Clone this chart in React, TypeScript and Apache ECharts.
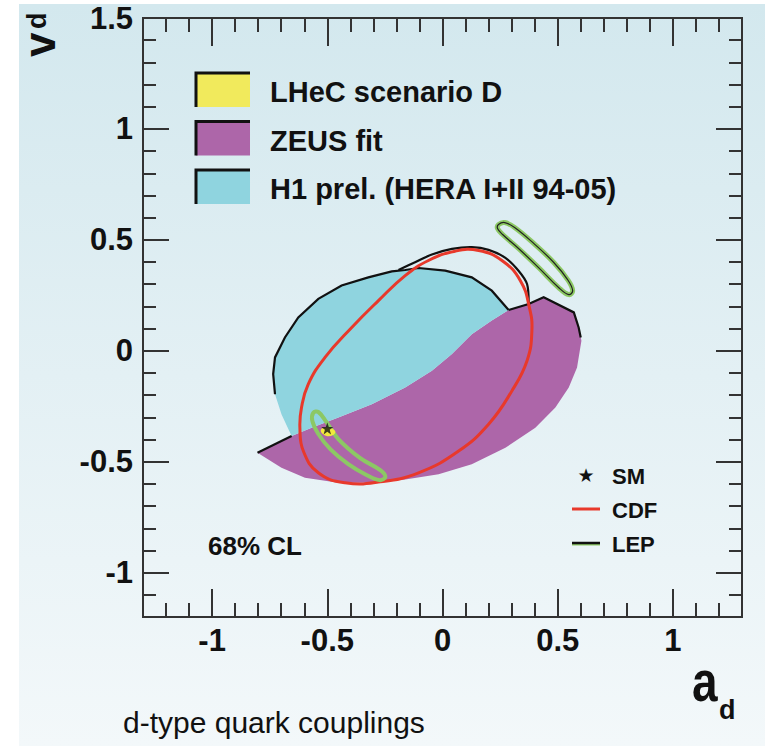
import React, { useEffect, useRef } from "react";
import * as echarts from "echarts";

// ---- axis definitions ----
const xRange = [-1.3, 1.3];
const yRange = [-1.2, 1.5];
const xMajorTicks = [-1, -0.5, 0, 0.5, 1];
const yMajorTicks = [-1, -0.5, 0, 0.5, 1, 1.5];

// ---- shapes (a_d, v_d) ----
// shared boundary between H1 (upper) and ZEUS (lower) regions, left to right
const h1ZeusBoundary = [
  [-0.655, -0.384], [-0.568, -0.347], [-0.452, -0.301], [-0.307, -0.241],
  [-0.162, -0.166], [-0.046, -0.09], [0.041, -0.015], [0.127, 0.075],
  [0.214, 0.136], [0.287, 0.184],
];
// H1 outer contour, from lower-left going up and over to the right
const h1Outer = [
  [-0.655, -0.384], [-0.699, -0.286], [-0.727, -0.196], [-0.735, -0.105],
  [-0.727, -0.03], [-0.684, 0.06], [-0.626, 0.15], [-0.539, 0.234],
  [-0.438, 0.294], [-0.322, 0.331], [-0.22, 0.358], [-0.162, 0.364],
  [-0.104, 0.373], [0.012, 0.361], [0.127, 0.331], [0.214, 0.271],
  [0.287, 0.184],
];
// ZEUS outer contour, from upper-right going round the bottom to the lower-left tail
const zeusOuter = [
  [0.287, 0.184], [0.374, 0.211], [0.439, 0.241], [0.57, 0.173],
  [0.591, 0.105], [0.603, 0.045], [0.584, -0.075], [0.548, -0.166],
  [0.49, -0.256], [0.403, -0.347], [0.273, -0.437], [0.127, -0.512],
  [-0.017, -0.557], [-0.162, -0.58], [-0.307, -0.595], [-0.452, -0.595],
  [-0.597, -0.572], [-0.699, -0.527], [-0.803, -0.46], [-0.655, -0.384],
];
// black contour line above the H1 region
const upperContour = [
  [-0.191, 0.364], [-0.119, 0.399], [-0.046, 0.434], [0.041, 0.459],
  [0.127, 0.467], [0.2, 0.455], [0.273, 0.419], [0.33, 0.361],
  [0.367, 0.301], [0.374, 0.211],
];
const zeusTailEdge = [[-0.803, -0.46], [-0.655, -0.384]];
const zeusRightEdge = [
  [0.287, 0.184], [0.374, 0.211], [0.439, 0.241], [0.57, 0.173],
  [0.591, 0.105], [0.6, 0.06],
];
const h1EdgeStart = 2; // black outline drawn from this h1Outer index on

// CDF contour
const cdfContour = [
  [-0.619, -0.347], [-0.612, -0.256], [-0.583, -0.151], [-0.51, -0.03],
  [-0.394, 0.105], [-0.278, 0.226], [-0.162, 0.339], [-0.061, 0.407],
  [0.055, 0.449], [0.157, 0.452], [0.258, 0.407], [0.338, 0.316],
  [0.377, 0.196], [0.388, 0.09], [0.367, -0.045], [0.301, -0.181],
  [0.2, -0.331], [0.07, -0.452], [-0.104, -0.55], [-0.278, -0.592],
  [-0.423, -0.595], [-0.539, -0.55], [-0.604, -0.452],
];
// LEP contours
const lepUpper = [
  [0.243, 0.569], [0.27, 0.578], [0.313, 0.556], [0.396, 0.484],
  [0.483, 0.398], [0.543, 0.321], [0.565, 0.271], [0.548, 0.253],
  [0.504, 0.285], [0.417, 0.375], [0.33, 0.461], [0.261, 0.524],
  [0.239, 0.551],
];
const lepLower = [
  [-0.561, -0.28], [-0.539, -0.276], [-0.504, -0.321], [-0.452, -0.398],
  [-0.357, -0.484], [-0.27, -0.538], [-0.248, -0.569], [-0.274, -0.583],
  [-0.33, -0.56], [-0.409, -0.511], [-0.487, -0.443], [-0.539, -0.375],
  [-0.565, -0.316],
];
// LHeC scenario D contour
const lhecContour = [
  [-0.528, -0.356], [-0.51, -0.346], [-0.48, -0.35], [-0.465, -0.365],
  [-0.475, -0.38], [-0.5, -0.385], [-0.522, -0.373],
];
// Standard Model point
const smPoint = [[-0.5, -0.35]];

const legendItems = ["LHeC scenario D", "ZEUS fit", "H1 prel. (HERA I+II 94-05)"];
const legendColors = ["#f1ea5c", "#ad66a9", "#8fd4df"];
const innerLegend = ["SM", "CDF", "LEP"];

const FONT = "'Liberation Sans', Arial, Helvetica, sans-serif";
const STAR = "path://M12,0 L14.9,8.3 L23.6,8.3 L16.6,13.6 L19.2,22 L12,16.9 L4.8,22 L7.4,13.6 L0.4,8.3 L9.1,8.3 Z";

function shapeSeries(pts: number[][], kind: "polygon" | "polyline", style: any, smooth = 0, z = 2) {
  return {
    type: "custom",
    xAxisIndex: 0,
    yAxisIndex: 0,
    z,
    silent: true,
    data: pts,
    renderItem: (params: any, api: any) => {
      if (params.dataIndex !== 0) return null;
      return {
        type: kind,
        shape: { points: pts.map((p) => api.coord(p)), smooth },
        style,
      };
    },
  };
}

function axisPair(dim: "x" | "y", position: string, range: number[], majors: number[], showLabels: boolean) {
  const common = {
    type: "value",
    min: range[0],
    max: range[1],
    position,
    splitLine: { show: false },
    axisLine: { show: true, onZero: false, lineStyle: { color: "#333", width: 2 } },
  };
  const majorLen = dim === "x" ? 28 : 26;
  const minorLen = dim === "x" ? 14 : 13;
  return [
    {
      ...common,
      interval: 0.1,
      axisTick: { show: true, inside: true, length: majorLen, customValues: majors, lineStyle: { color: "#333", width: 2 } },
      axisLabel: showLabels
        ? {
            show: true,
            customValues: majors,
            fontFamily: FONT,
            fontWeight: "bold",
            fontSize: 31,
            color: "#111",
            margin: dim === "x" ? 8 : 10,
          }
        : { show: false },
    },
    {
      ...common,
      interval: 0.1,
      axisTick: { show: true, inside: true, length: minorLen, lineStyle: { color: "#333", width: 2 } },
      axisLabel: { show: false },
    },
  ];
}

export default function App() {
  const ref = useRef<HTMLDivElement>(null);
  useEffect(() => {
    if (!ref.current) return;
    const chart = echarts.init(ref.current, null, { renderer: "svg" });
    const h1Poly = [...h1Outer, ...h1ZeusBoundary.slice().reverse()];
    const zeusPoly = [...h1ZeusBoundary, ...zeusOuter];
    const blackLine = { stroke: "#111", lineWidth: 2.2, fill: "none" };

    const legendGraphics: any[] = [];
    legendItems.forEach((t, i) => {
      const y = 73 + i * 48.5;
      legendGraphics.push({
        type: "rect",
        z: 100,
        shape: { x: 196, y, width: 54, height: 34 },
        style: { fill: legendColors[i] },
      });
      legendGraphics.push({
        type: "polyline",
        z: 101,
        shape: { points: [[196, y + 34], [196, y], [250, y]] },
        style: { stroke: "#111", lineWidth: 3, fill: "none" },
      });
      legendGraphics.push({
        type: "text",
        z: 100,
        x: 270,
        y: y + 19,
        style: {
          text: t,
          font: `bold 29px ${FONT}`,
          fill: "#111",
          textVerticalAlign: "middle",
        },
      });
    });

    const innerY = [475, 509, 543];
    innerLegend.forEach((t, i) => {
      legendGraphics.push({
        type: "text",
        z: 100,
        x: 612,
        y: innerY[i] + 1,
        style: { text: t, font: `bold 22px ${FONT}`, fill: "#111", textVerticalAlign: "middle" },
      });
    });
    legendGraphics.push({
      type: "line",
      z: 100,
      shape: { x1: 572, y1: innerY[1], x2: 600, y2: innerY[1] },
      style: { stroke: "#e8392b", lineWidth: 3 },
    });
    legendGraphics.push({
      type: "line",
      z: 100,
      shape: { x1: 572, y1: innerY[2] + 1.5, x2: 600, y2: innerY[2] + 1.5 },
      style: { stroke: "#8cc864", lineWidth: 2 },
    });
    legendGraphics.push({
      type: "line",
      z: 101,
      shape: { x1: 572, y1: innerY[2], x2: 600, y2: innerY[2] },
      style: { stroke: "#111", lineWidth: 2.5 },
    });
    legendGraphics.push({
      type: "text",
      z: 100,
      x: 586,
      y: innerY[0],
      style: { text: "★", font: `19px 'DejaVu Sans'`, fill: "#111", textAlign: "center", textVerticalAlign: "middle" },
    });

    chart.setOption({
      animation: false,
      grid: { left: 143, top: 18, width: 599, height: 599, containLabel: false },
      xAxis: [
        ...axisPair("x", "bottom", xRange, xMajorTicks, true),
        ...axisPair("x", "top", xRange, xMajorTicks, false),
      ],
      yAxis: [
        ...axisPair("y", "left", yRange, yMajorTicks, true),
        ...axisPair("y", "right", yRange, yMajorTicks, false),
      ],
      graphic: [
        {
          type: "rect",
          z: -10,
          silent: true,
          shape: { x: 19, y: 4, width: 746, height: 742 },
          style: {
            fill: new echarts.graphic.LinearGradient(0, 0, 0, 1, [
              { offset: 0, color: "#d3e8ee" },
              { offset: 1, color: "#f3f8fa" },
            ]),
          },
        },
        ...legendGraphics,
        {
          type: "text",
          z: 100,
          x: 123,
          y: 722,
          style: { text: "d-type quark couplings", font: `30px ${FONT}`, fill: "#111", textVerticalAlign: "middle" },
        },
        {
          type: "text",
          z: 100,
          x: 208,
          y: 546,
          style: { text: "68% CL", font: `bold 26px ${FONT}`, fill: "#111", textVerticalAlign: "middle" },
        },
        {
          type: "text",
          z: 100,
          x: 692,
          y: 710,
          scaleY: 1.25,
          style: { text: "a", font: `bold 46px ${FONT}`, fill: "#111", textVerticalAlign: "bottom" },
        },
        {
          type: "text",
          z: 100,
          x: 719,
          y: 723,
          style: { text: "d", font: `bold 27px ${FONT}`, fill: "#111", textVerticalAlign: "bottom" },
        },
        {
          type: "text",
          z: 100,
          x: 61,
          y: 57,
          rotation: Math.PI / 2,
          style: { text: "v", font: `bold 44px ${FONT}`, fill: "#111", textVerticalAlign: "bottom" },
        },
        {
          type: "text",
          z: 100,
          x: 50,
          y: 29,
          rotation: Math.PI / 2,
          style: { text: "d", font: `bold 27px ${FONT}`, fill: "#111", textVerticalAlign: "bottom" },
        },
      ],
      series: [
        shapeSeries(zeusPoly, "polygon", { fill: "#ad66a9", stroke: "none" }),
        shapeSeries(h1Poly, "polygon", { fill: "#8fd4df", stroke: "none" }),
        shapeSeries(h1Outer.slice(h1EdgeStart), "polyline", blackLine, 0, 3),
        shapeSeries(upperContour, "polyline", blackLine, 0.3, 3),
        shapeSeries(zeusTailEdge, "polyline", blackLine, 0, 3),
        shapeSeries(zeusRightEdge, "polyline", blackLine, 0, 3),
        shapeSeries(cdfContour, "polygon", { fill: "none", stroke: "#e8392b", lineWidth: 3 }, 0.45, 4),
        shapeSeries(lepUpper, "polygon", { fill: "none", stroke: "#8cc864", lineWidth: 5 }, 0.4, 5),
        shapeSeries(lepUpper, "polygon", { fill: "none", stroke: "#222", lineWidth: 1.2 }, 0.4, 6),
        shapeSeries(lepLower, "polygon", { fill: "none", stroke: "#8cc864", lineWidth: 4 }, 0.4, 5),
        shapeSeries(lhecContour, "polygon", { fill: "#f1ea3c", stroke: "none" }, 0.4, 7),
        {
          type: "scatter",
          xAxisIndex: 0,
          yAxisIndex: 0,
          z: 8,
          symbol: STAR,
          symbolSize: 12,
          itemStyle: { color: "#111" },
          data: smPoint,
          silent: true,
        },
      ],
    });
    return () => chart.dispose();
  }, []);
  return (
    <div
      ref={ref}
      style={{ position: "absolute", left: 0, top: 0, width: 765, height: 746 }}
    />
  );
}
